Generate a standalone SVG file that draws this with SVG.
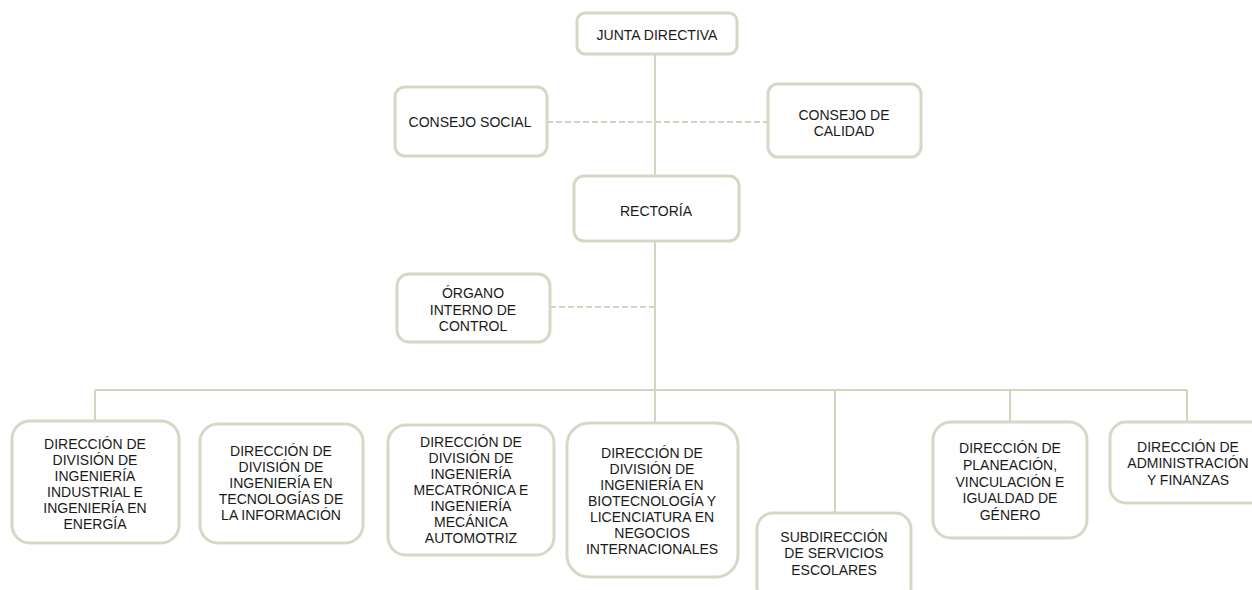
<svg xmlns="http://www.w3.org/2000/svg" width="1252" height="590" viewBox="0 0 1252 590">
<style>
.box{fill:#ffffff;stroke:#d6d8c6;stroke-width:3}
.ln{fill:none;stroke:#d3d5c1;stroke-width:2}
.dash{fill:none;stroke:#d3d5c1;stroke-width:2;stroke-dasharray:6 3}
text{font-family:"Liberation Sans",Arial,sans-serif;font-size:14px;fill:#1a1a1a;text-anchor:middle}
</style>
<rect width="1252" height="590" fill="#ffffff"/>
<g id="connectors">
<line class="ln" x1="655" y1="54" x2="655" y2="423"/>
<line class="ln" x1="95" y1="390" x2="1187" y2="390"/>
<line class="ln" x1="95" y1="390" x2="95" y2="421"/>
<line class="ln" x1="835" y1="390" x2="835" y2="513"/>
<line class="ln" x1="1010" y1="390" x2="1010" y2="422"/>
<line class="ln" x1="1187" y1="390" x2="1187" y2="422"/>
<line class="dash" x1="547" y1="122" x2="768" y2="122"/>
<line class="dash" x1="550" y1="307" x2="655" y2="307"/>
</g>
<g id="junta">
<rect class="box" x="577" y="13" width="160" height="41" rx="8"/>
<text x="657" y="40">JUNTA DIRECTIVA</text>
</g>
<g id="consejo-social">
<rect class="box" x="395" y="87" width="152" height="69" rx="10"/>
<text x="470" y="127">CONSEJO SOCIAL</text>
</g>
<g id="consejo-calidad">
<rect class="box" x="768" y="84" width="153" height="73" rx="10"/>
<text x="844" y="120">CONSEJO DE</text>
<text x="844" y="136">CALIDAD</text>
</g>
<g id="rectoria">
<rect class="box" x="574" y="176" width="165" height="65" rx="10"/>
<text x="656" y="216">RECTORÍA</text>
</g>
<g id="organo">
<rect class="box" x="397" y="274" width="153" height="68" rx="12"/>
<text x="473" y="298">ÓRGANO</text>
<text x="473" y="314.5">INTERNO DE</text>
<text x="473" y="331">CONTROL</text>
</g>
<g id="dir-industrial">
<rect class="box" x="12" y="421" width="167" height="122" rx="18"/>
<text x="95" y="449">DIRECCIÓN DE</text>
<text x="95" y="465">DIVISIÓN DE</text>
<text x="95" y="481">INGENIERÍA</text>
<text x="95" y="497">INDUSTRIAL E</text>
<text x="95" y="513">INGENIERÍA EN</text>
<text x="95" y="529">ENERGÍA</text>
</g>
<g id="dir-tecnologias">
<rect class="box" x="200" y="424" width="163" height="119" rx="18"/>
<text x="281" y="456">DIRECCIÓN DE</text>
<text x="281" y="472">DIVISIÓN DE</text>
<text x="281" y="488">INGENIERÍA EN</text>
<text x="281" y="504">TECNOLOGÍAS DE</text>
<text x="281" y="520">LA INFORMACIÓN</text>
</g>
<g id="dir-mecatronica">
<rect class="box" x="388" y="425" width="166" height="130" rx="18"/>
<text x="471" y="447">DIRECCIÓN DE</text>
<text x="471" y="463">DIVISIÓN DE</text>
<text x="471" y="479">INGENIERÍA</text>
<text x="471" y="495">MECATRÓNICA E</text>
<text x="471" y="511">INGENIERÍA</text>
<text x="471" y="527">MECÁNICA</text>
<text x="471" y="543">AUTOMOTRIZ</text>
</g>
<g id="dir-biotecnologia">
<rect class="box" x="567" y="423" width="171" height="154" rx="22"/>
<text x="652" y="458">DIRECCIÓN DE</text>
<text x="652" y="474">DIVISIÓN DE</text>
<text x="652" y="490">INGENIERÍA EN</text>
<text x="652" y="506">BIOTECNOLOGÍA Y</text>
<text x="652" y="522">LICENCIATURA EN</text>
<text x="652" y="538">NEGOCIOS</text>
<text x="652" y="554">INTERNACIONALES</text>
</g>
<g id="subdir-escolares">
<rect class="box" x="757" y="513" width="154" height="90" rx="16"/>
<text x="834" y="542">SUBDIRECCIÓN</text>
<text x="834" y="558">DE SERVICIOS</text>
<text x="834" y="575">ESCOLARES</text>
</g>
<g id="dir-planeacion">
<rect class="box" x="933" y="422" width="154" height="116" rx="18"/>
<text x="1010" y="453">DIRECCIÓN DE</text>
<text x="1010" y="470">PLANEACIÓN,</text>
<text x="1010" y="487">VINCULACIÓN E</text>
<text x="1010" y="503">IGUALDAD DE</text>
<text x="1010" y="520">GÉNERO</text>
</g>
<g id="dir-administracion">
<rect class="box" x="1110" y="422" width="156" height="81" rx="16"/>
<text x="1188" y="452">DIRECCIÓN DE</text>
<text x="1188" y="468">ADMINISTRACIÓN</text>
<text x="1188" y="485">Y FINANZAS</text>
</g>
</svg>
